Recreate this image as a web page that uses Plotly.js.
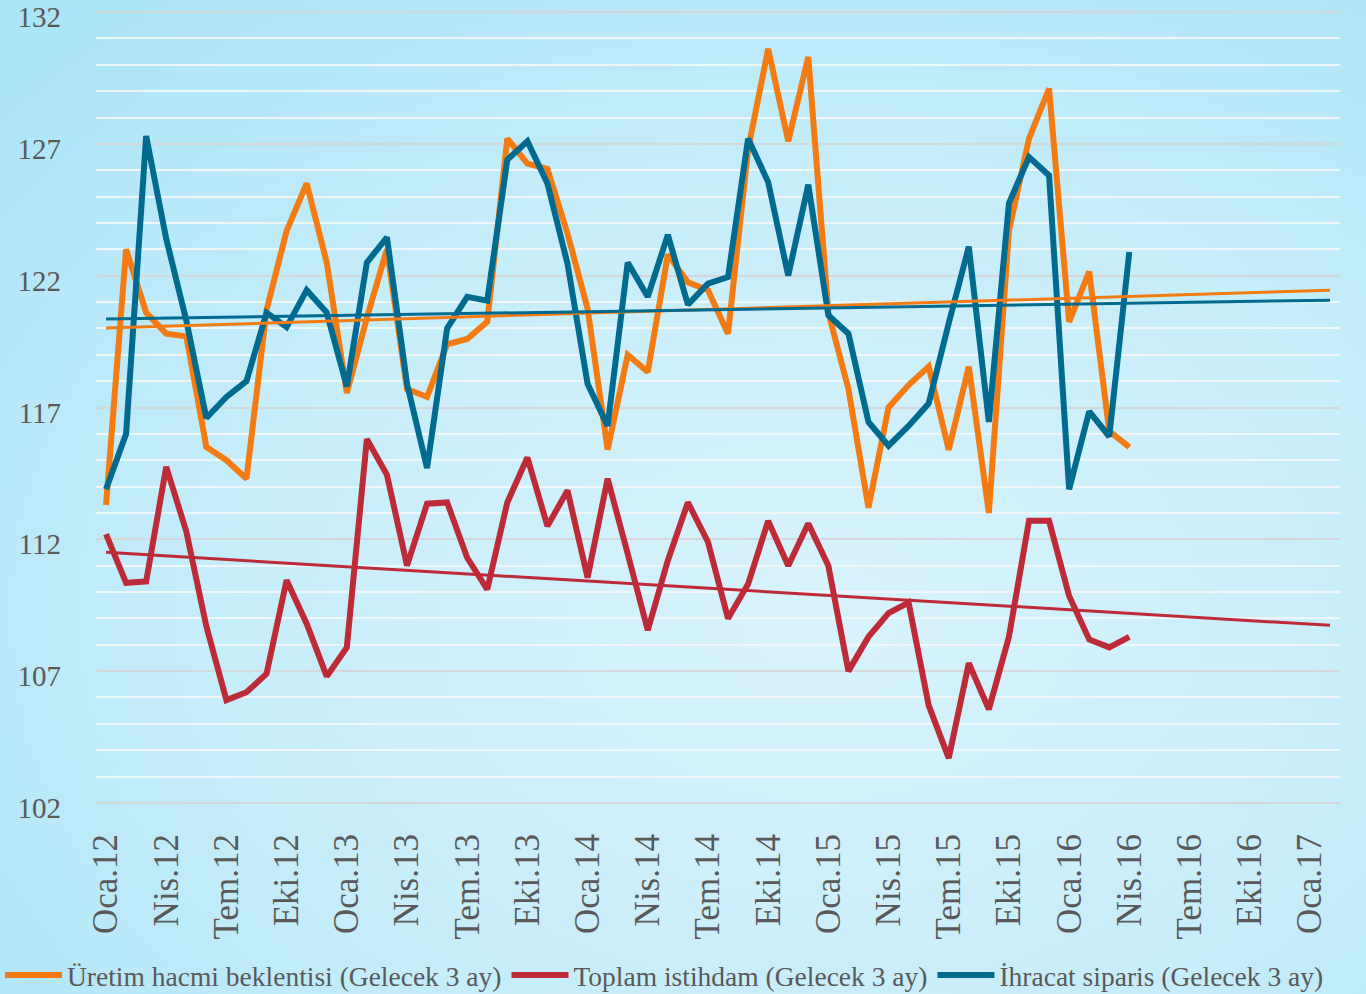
<!DOCTYPE html>
<html>
<head>
<meta charset="utf-8">
<script src="https://cdn.plot.ly/plotly-3.0.1.min.js"></script>
<style>
  html, body { margin: 0; padding: 0; background: #c2ebf9; }
  #chart { width: 1366px; height: 994px; }
</style>
</head>
<body>
<div id="chart"></div>
<script>
// ---- Category labels (Turkish month abbreviations) ----
const monthAbbr = ["Oca", "Şub", "Mar", "Nis", "May", "Haz", "Tem", "Ağu", "Eyl", "Eki", "Kas", "Ara"];
const years = ["12", "13", "14", "15", "16", "17"];
const axisMonthCount = 62; // Oca.12 ... Şub.17 (trend forecast extends here)

// ---- Series values (Oca.12 ... Nis.16) ----
const uretim = [
  113.3, 123.0, 120.6, 119.8, 119.7, 115.5, 115.0, 114.3, 120.7, 123.7,
  125.5, 122.5, 117.55, 120.4, 123.0, 117.7, 117.4, 119.4, 119.6, 120.25,
  127.2, 126.25, 126.05, 123.6, 120.75, 115.4, 119.0, 118.35, 122.8, 121.75,
  121.45, 119.8, 126.8, 130.6, 127.1, 130.3, 120.6, 117.7, 113.2, 117.0,
  117.85, 118.55, 115.4, 118.55, 113.0, 123.7, 127.2, 129.1, 120.25, 122.15,
  116.1, 115.5
];
const istihdam = [
  112.2, 110.35, 110.4, 114.75, 112.3, 108.7, 105.9, 106.2, 106.9, 110.45,
  108.8, 106.8, 107.9, 115.8, 114.45, 111.0, 113.35, 113.4, 111.3, 110.1,
  113.4, 115.1, 112.5, 113.85, 110.55, 114.3, 111.45, 108.55, 111.2, 113.4,
  111.9, 109.0, 110.3, 112.7, 111.0, 112.6, 111.0, 107.0, 108.3, 109.2,
  109.6, 105.7, 103.7, 107.3, 105.55, 108.3, 112.7, 112.7, 109.85, 108.2,
  107.9, 108.3
];
const ihracat = [
  113.9, 116.0, 127.3, 123.4, 120.3, 116.6, 117.4, 118.0, 120.6, 120.05,
  121.45, 120.6, 117.8, 122.5, 123.45, 117.9, 114.7, 120.0, 121.2, 121.05,
  126.4, 127.1, 125.5, 122.45, 117.9, 116.3, 122.5, 121.2, 123.55, 120.9,
  121.7, 121.95, 127.2, 125.55, 122.0, 125.45, 120.5, 119.8, 116.45, 115.55,
  116.3, 117.15, 120.2, 123.1, 116.45, 124.75, 126.5, 125.8, 113.9, 116.85,
  115.9, 122.9
];

const seriesNames = [
  "Üretim hacmi beklentisi (Gelecek 3 ay)",
  "Toplam istihdam (Gelecek 3 ay)",
  "İhracat siparis (Gelecek 3 ay)"
];
const seriesColors = ["#F47B12", "#BE2B38", "#006B8F"];
const yTickVals = [102, 107, 112, 117, 122, 127, 132];

// ---- Build categories ----
const categories = [];
for (let k = 0; k < axisMonthCount; k++) {
  categories.push(monthAbbr[k % 12] + "." + years[Math.floor(k / 12)]);
}
const tickCats = categories.filter((c, k) => k % 3 === 0 && k <= 60);

// ---- Linear trend (least squares over data points), forecast to end of axis ----
function trend(vals) {
  const n = vals.length;
  let sx = 0, sy = 0, sxx = 0, sxy = 0;
  for (let k = 0; k < n; k++) { sx += k; sy += vals[k]; sxx += k * k; sxy += k * vals[k]; }
  const b = (n * sxy - sx * sy) / (n * sxx - sx * sx);
  const a = (sy - b * sx) / n;
  const last = axisMonthCount - 1;
  return { x: [categories[0], categories[last]], y: [a, a + b * last] };
}

const allSeries = [uretim, istihdam, ihracat];
const traces = [];
allSeries.forEach((vals, s) => {
  traces.push({
    type: "scatter", mode: "lines",
    x: categories.slice(0, vals.length), y: vals,
    name: seriesNames[s],
    line: { color: seriesColors[s], width: 6, shape: "linear" },
    hoverinfo: "x+y+name"
  });
});
allSeries.forEach((vals, s) => {
  const t = trend(vals);
  traces.push({
    type: "scatter", mode: "lines",
    x: t.x, y: t.y,
    showlegend: false,
    line: { color: seriesColors[s], width: 3 },
    hoverinfo: "skip"
  });
});

// ---- Layout geometry ----
const W = 1366, H = 994;
const M = { l: 96, r: 26, t: 11, b: 190, autoexpand: false };
const pw = W - M.l - M.r, ph = H - M.t - M.b;
const bgSvg = "<svg xmlns='http://www.w3.org/2000/svg' width='1366' height='994'>" +
  "<defs><radialGradient id='g' cx='0.6' cy='0.62' r='0.8'>" +
  "<stop offset='0' stop-color='#d8f3fc'/><stop offset='0.55' stop-color='#c6edfa'/>" +
  "<stop offset='1' stop-color='#ace4f8'/></radialGradient></defs>" +
  "<rect width='1366' height='994' fill='url(#g)'/></svg>";

const textColor = "#595959";
const layout = {
  width: W, height: H,
  margin: M,
  paper_bgcolor: "#c2ebf9",
  plot_bgcolor: "rgba(0,0,0,0)",
  font: { family: "Liberation Serif, DejaVu Serif, serif", color: textColor },
  showlegend: true,
  legend: {
    orientation: "h",
    xref: "paper", yref: "paper",
    x: -M.l / pw, xanchor: "left",
    y: -(975 - (H - M.b)) / ph, yanchor: "middle",
    font: { size: 27.5, color: textColor, family: "Liberation Serif, serif" },
    bgcolor: "rgba(0,0,0,0)",
    itemwidth: 57,
    tracegroupgap: 0
  },
  xaxis: {
    type: "category",
    categoryorder: "array",
    categoryarray: categories,
    range: [-0.5, axisMonthCount - 0.5],
    tickmode: "array",
    tickvals: tickCats,
    ticktext: tickCats,
    tickangle: -90,
    tickfont: { size: 35, color: textColor, family: "Liberation Serif, serif" },
    ticks: "",
    ticklabelstandoff: 22,
    ticklabeloverflow: "allow",
    showgrid: false,
    showline: false,
    zeroline: false,
    fixedrange: true
  },
  yaxis: {
    range: [101.96, 132.04],
    tickmode: "array",
    tickvals: yTickVals,
    ticktext: yTickVals.map(String),
    tickfont: { size: 29, color: textColor, family: "Liberation Serif, serif" },
    ticks: "",
    ticklabelstandoff: 34,
    ticklabelshift: 5,
    ticklabeloverflow: "allow",
    showgrid: true,
    gridcolor: "#d2d8dc",
    gridwidth: 2,
    minor: { tickmode: "linear", dtick: 1, tick0: 102, showgrid: true, gridcolor: "#eef6f9", gridwidth: 2 },
    showline: false,
    zeroline: false,
    fixedrange: true
  },
  images: [{
    source: "data:image/svg+xml;charset=utf-8," + encodeURIComponent(bgSvg),
    xref: "paper", yref: "paper",
    x: -M.l / pw, y: 1 + M.t / ph,
    sizex: W / pw, sizey: H / ph,
    xanchor: "left", yanchor: "top",
    sizing: "stretch",
    layer: "below"
  }]
};

Plotly.newPlot("chart", traces, layout, { displayModeBar: false, staticPlot: true });
</script>
</body>
</html>
